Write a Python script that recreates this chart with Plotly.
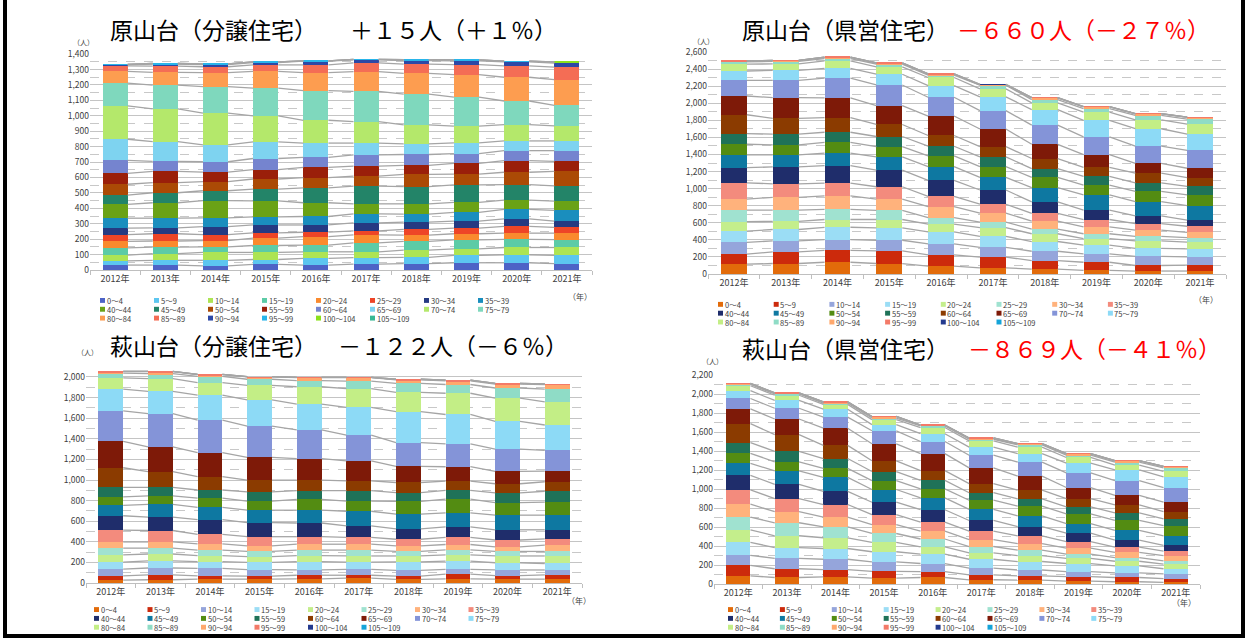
import plotly.graph_objects as go

W, H = 1249, 644

YEARS = ["2012年", "2013年", "2014年", "2015年", "2016年", "2017年", "2018年", "2019年", "2020年", "2021年"]
AGES = ["0～4", "5～9", "10～14", "15～19", "20～24", "25～29", "30～34", "35～39",
        "40～44", "45～49", "50～54", "55～59", "60～64", "65～69", "70～74", "75～79",
        "80～84", "85～89", "90～94", "95～99", "100～104", "105～109"]

# 原山台（分譲住宅）  rows = age group, cols = 2012..2021
HARA_BUNJO = [
    [32, 32, 27, 36, 32, 38, 42, 47, 47, 42],
    [27, 31, 36, 32, 44, 42, 40, 48, 52, 53],
    [38, 43, 51, 46, 42, 38, 47, 42, 47, 51],
    [47, 42, 36, 45, 43, 58, 57, 58, 53, 51],
    [42, 40, 40, 48, 55, 52, 40, 40, 40, 42],
    [44, 47, 40, 34, 29, 26, 38, 36, 44, 38],
    [41, 38, 51, 51, 47, 51, 47, 46, 49, 40],
    [65, 63, 57, 53, 55, 59, 51, 57, 61, 70],
    [89, 100, 112, 103, 89, 65, 67, 64, 60, 59],
    [61, 65, 64, 77, 97, 115, 112, 114, 101, 100],
    [70, 66, 59, 65, 66, 65, 79, 70, 80, 93],
    [70, 72, 62, 61, 67, 64, 59, 70, 75, 65],
    [85, 65, 67, 72, 64, 74, 70, 63, 65, 70],
    [137, 129, 110, 108, 93, 76, 69, 70, 63, 63],
    [216, 212, 205, 169, 148, 139, 123, 108, 106, 98],
    [148, 154, 172, 180, 192, 197, 199, 188, 153, 133],
    [76, 83, 91, 108, 117, 127, 135, 146, 154, 166],
    [36, 40, 38, 42, 50, 57, 60, 65, 74, 81],
    [8, 13, 14, 15, 24, 19, 23, 24, 25, 27],
    [2, 4, 5, 4, 2, 4, 6, 6, 5, 6],
    [0, 0, 0, 0, 0, 0, 0, 0, 0, 1],
    [0, 0, 0, 0, 0, 0, 0, 0, 0, 0],
]

# 原山台（県営住宅）
HARA_KENEI = [
    [114, 122, 137, 122, 91, 72, 57, 42, 34, 34],
    [118, 136, 140, 148, 133, 126, 99, 95, 65, 69],
    [137, 130, 126, 125, 129, 114, 110, 99, 106, 98],
    [133, 133, 144, 145, 141, 129, 114, 102, 95, 92],
    [110, 95, 91, 98, 91, 102, 91, 76, 88, 79],
    [137, 133, 118, 107, 76, 65, 53, 57, 53, 54],
    [129, 148, 160, 133, 129, 106, 95, 80, 72, 60],
    [190, 159, 148, 144, 118, 103, 92, 87, 76, 73],
    [178, 198, 205, 194, 190, 167, 133, 111, 91, 72],
    [149, 141, 148, 156, 160, 148, 167, 178, 167, 171],
    [125, 117, 126, 121, 125, 126, 121, 114, 122, 125],
    [125, 126, 118, 118, 114, 114, 103, 103, 99, 99],
    [221, 186, 171, 141, 126, 121, 118, 106, 114, 103],
    [220, 243, 231, 220, 228, 206, 167, 148, 114, 110],
    [183, 202, 232, 243, 220, 216, 224, 209, 201, 209],
    [110, 117, 114, 126, 137, 160, 183, 194, 205, 190],
    [80, 76, 88, 87, 95, 95, 79, 95, 103, 118],
    [26, 31, 26, 31, 26, 42, 38, 42, 53, 60],
    [8, 7, 12, 11, 12, 3, 19, 19, 19, 19],
    [4, 4, 7, 4, 4, 2, 4, 4, 3, 3],
    [0, 0, 0, 0, 0, 6, 0, 0, 0, 0],
    [0, 0, 0, 0, 0, 0, 0, 0, 0, 0],
]

# 萩山台（分譲住宅）
HAGI_BUNJO = [
    [29, 32, 38, 38, 41, 48, 35, 41, 38, 38],
    [41, 47, 32, 29, 35, 28, 32, 45, 35, 41],
    [66, 67, 73, 63, 51, 57, 57, 47, 54, 48],
    [67, 70, 66, 70, 82, 70, 82, 79, 70, 63],
    [70, 66, 57, 57, 57, 60, 57, 61, 66, 73],
    [66, 57, 54, 50, 54, 57, 44, 50, 44, 44],
    [60, 60, 60, 54, 57, 57, 54, 51, 45, 61],
    [115, 111, 92, 89, 73, 67, 64, 70, 66, 60],
    [139, 130, 143, 136, 133, 111, 101, 101, 99, 89],
    [101, 124, 120, 121, 124, 142, 143, 137, 142, 142],
    [83, 82, 89, 89, 105, 99, 124, 133, 121, 127],
    [92, 83, 79, 88, 85, 101, 85, 85, 95, 105],
    [190, 152, 130, 115, 102, 95, 98, 89, 89, 92],
    [257, 241, 232, 221, 209, 194, 156, 140, 120, 104],
    [295, 323, 317, 302, 279, 250, 231, 221, 216, 200],
    [212, 216, 241, 256, 250, 269, 301, 286, 269, 247],
    [108, 123, 123, 140, 168, 181, 187, 206, 225, 225],
    [47, 48, 60, 60, 60, 73, 86, 85, 99, 124],
    [13, 19, 16, 22, 29, 35, 35, 35, 38, 44],
    [3, 3, 3, 3, 2, 3, 6, 7, 6, 7],
    [0, 0, 0, 0, 0, 0, 0, 0, 0, 0],
    [0, 0, 0, 0, 0, 0, 0, 0, 0, 0],
]

# 萩山台（県営住宅）
HAGI_KENEI = [
    [86, 69, 76, 62, 69, 45, 41, 31, 24, 17],
    [110, 92, 75, 72, 61, 51, 45, 48, 45, 41],
    [106, 110, 110, 99, 86, 72, 62, 51, 48, 48],
    [137, 113, 113, 107, 100, 93, 89, 86, 75, 55],
    [131, 124, 113, 99, 75, 68, 62, 55, 48, 48],
    [134, 137, 114, 93, 83, 66, 58, 45, 38, 35],
    [137, 117, 103, 93, 82, 72, 69, 62, 55, 55],
    [151, 137, 133, 106, 96, 89, 82, 68, 55, 48],
    [151, 151, 138, 130, 130, 113, 96, 89, 75, 61],
    [127, 141, 147, 134, 124, 117, 113, 100, 103, 100],
    [106, 96, 96, 93, 96, 96, 103, 103, 103, 106],
    [113, 110, 103, 96, 89, 79, 76, 75, 79, 72],
    [200, 175, 138, 113, 103, 96, 92, 86, 86, 76],
    [154, 165, 181, 179, 179, 165, 148, 117, 99, 99],
    [110, 113, 117, 137, 127, 134, 148, 154, 155, 155],
    [82, 82, 83, 65, 82, 85, 89, 103, 113, 113],
    [52, 55, 51, 52, 65, 66, 68, 59, 51, 58],
    [14, 14, 14, 17, 17, 17, 24, 24, 32, 35],
    [7, 7, 10, 14, 7, 10, 11, 13, 13, 13],
    [3, 3, 3, 3, 3, 3, 3, 3, 3, 3],
    [0, 0, 0, 0, 0, 0, 0, 0, 0, 0],
    [0, 0, 0, 0, 0, 0, 0, 0, 0, 0],
]

PAL_A = ["#4D63C6", "#5CC6F0", "#ADE454", "#5CCBA6", "#FA8A2E", "#EE4527", "#253A82", "#1A8EBE",
         "#6AA216", "#238468", "#AB4A05", "#9A1F0A", "#7584CF", "#7ED3F0", "#B4E86B", "#7FD8BD",
         "#FD9D50", "#F46D55", "#2D48A6", "#29B5EA", "#8BE11C", "#36B894"]
PAL_B = ["#E26B0A", "#CC2A0C", "#95A5DB", "#9BDDF5", "#C4EE8C", "#A0E2D0", "#FFB27C", "#F38B7D",
         "#1F2D6B", "#0E78A1", "#538C12", "#1F7258", "#8B3B00", "#7E1A08", "#8494D8", "#8DDAF6",
         "#C3EE86", "#8FDCC6", "#FFA86C", "#F37A68", "#243A8E", "#15A4D9"]

FONT = "Noto Sans CJK JP"


def fx(x):
    return x / W


def fy(y):
    return 1 - y / H


PANELS = [
    dict(data=HARA_BUNJO, pal=PAL_A, x0=90, x1=592, ytop=48, ybot=268, ymax=1400, dtick=100, minor=50,
         legx=100, legdx=54, legy=[299, 308, 317], nin=(72, 30), nen=(580, 295)),
    dict(data=HARA_KENEI, pal=PAL_B, x0=708, x1=1226, ytop=46, ybot=272, ymax=2600, dtick=200, minor=100,
         legx=718, legdx=55.7, legy=[303, 312, 321], nin=(703, 29), nen=(1219, 298)),
    dict(data=HAGI_BUNJO, pal=PAL_B, x0=86, x1=582, ytop=587 - 2100 * 0.105, ybot=587, ymax=2100, dtick=200,
         minor=100, legx=94, legdx=53.5, legy=[614, 623, 632], nin=(76, 352), nen=(579, 611)),
    dict(data=HAGI_KENEI, pal=PAL_B, x0=714, x1=1200, ytop=375, ybot=588, ymax=2200, dtick=200, minor=100,
         legx=728, legdx=51.9, legy=[614, 623, 632], nin=(712, 361), nen=(1197, 613)),
]

fig = go.Figure()
annotations = []
shapes = []
BW = 0.5

for p, P in enumerate(PANELS):
    n = p + 1
    xa = "x" if n == 1 else f"x{n}"
    ya = "y" if n == 1 else f"y{n}"
    data = P["data"]
    for k, row in enumerate(data):
        fig.add_trace(go.Bar(x=list(range(len(YEARS))), y=row, name=AGES[k], width=BW,
                             marker=dict(color=P["pal"][k], line=dict(width=0)),
                             xaxis=xa, yaxis=ya, showlegend=False, hoverinfo="skip"))
    # series lines joining cumulative tops
    lx, ly = [], []
    cum = [0] * len(YEARS)
    for k, row in enumerate(data):
        cum = [c + v for c, v in zip(cum, row)]
        for i in range(len(YEARS) - 1):
            lx += [i + BW / 2, i + 1 - BW / 2, None]
            ly += [cum[i], cum[i + 1], None]
    fig.add_trace(go.Scatter(x=lx, y=ly, mode="lines", line=dict(color="#A5A5A5", width=1.3),
                             xaxis=xa, yaxis=ya, showlegend=False, hoverinfo="skip"))

    xkey = "xaxis" if n == 1 else f"xaxis{n}"
    ykey = "yaxis" if n == 1 else f"yaxis{n}"
    fig.update_layout(**{
        xkey: dict(domain=[fx(P["x0"]), fx(P["x1"])], anchor=ya, range=[-0.5, len(YEARS) - 0.5],
                   tickvals=list(range(len(YEARS))), ticktext=YEARS, showgrid=False, zeroline=False,
                   showline=True, linecolor="#BFBFBF", linewidth=1, ticks="",
                   tickfont=dict(family=FONT, size=9, color="#404040"),
                   minor=dict(tick0=0.5, dtick=1, ticks="outside", ticklen=4, tickcolor="#BFBFBF",
                              showgrid=False)),
        ykey: dict(domain=[fy(P["ybot"]), fy(P["ytop"])], anchor=xa, range=[0, P["ymax"]],
                   tick0=0, dtick=P["dtick"], tickformat=",", showgrid=True, gridcolor="#C4C4C4",
                   gridwidth=1.3, zeroline=False, showline=False, ticks="",
                   tickfont=dict(family=FONT, size=8.5, color="#404040"),
                   minor=dict(tick0=0, dtick=P["minor"], showgrid=True, gridcolor="#C8C8C8",
                              griddash="dash", gridwidth=1)),
    })

    # legend (3 rows x 8 columns)
    for j, age in enumerate(AGES):
        r, c = divmod(j, 8)
        x = P["legx"] + c * P["legdx"]
        y = P["legy"][r]
        shapes.append(dict(type="rect", xref="paper", yref="paper", x0=fx(x), x1=fx(x + 5),
                           y0=fy(y + 2.5), y1=fy(y - 2.5), fillcolor=P["pal"][j], line=dict(width=0)))
        annotations.append(dict(text=age, x=fx(x + 5.5), y=fy(y), xref="paper", yref="paper",
                                xanchor="left", yanchor="middle", showarrow=False, borderpad=0,
                                font=dict(family=FONT, size=7.5, color="#404040")))
    annotations.append(dict(text="（人）", x=fx(P["nin"][0]), y=fy(P["nin"][1]), xref="paper", yref="paper",
                            showarrow=False, borderpad=0, font=dict(family=FONT, size=7, color="#404040")))
    annotations.append(dict(text="（年）", x=fx(P["nen"][0]), y=fy(P["nen"][1]), xref="paper", yref="paper",
                            showarrow=False, borderpad=0, font=dict(family=FONT, size=8, color="#404040")))

TITLES = [
    ("原山台（分譲住宅）", 108, 22, "black"),
    ("＋１５人（＋１％）", 348, 22, "black"),
    ("原山台（県営住宅）", 740, 22, "black"),
    ("－６６０人（－２７％）", 955, 22, "#FF0000"),
    ("萩山台（分譲住宅）", 108, 344, "black"),
    ("－１２２人（－６％）", 336, 344, "black"),
    ("萩山台（県営住宅）", 740, 347, "black"),
    ("－８６９人（－４１％）", 966, 347, "#FF0000"),
]
for text, x, y, col in TITLES:
    annotations.append(dict(text=text, x=fx(x), y=fy(y), xref="paper", yref="paper", xanchor="left",
                            yanchor="middle", showarrow=False, font=dict(family=FONT, size=23, color=col)))

shapes.append(dict(type="rect", xref="paper", yref="paper", x0=fx(5), x1=fx(1243), y0=fy(641), y1=fy(-10),
                   line=dict(color="black", width=4), fillcolor="rgba(0,0,0,0)"))

fig.update_layout(width=W, height=H, autosize=False, margin=dict(l=0, r=0, t=0, b=0),
                  paper_bgcolor="white", plot_bgcolor="white", barmode="stack", bargap=0.5,
                  annotations=annotations, shapes=shapes, showlegend=False,
                  font=dict(family=FONT))

fig.write_html("out.html")
